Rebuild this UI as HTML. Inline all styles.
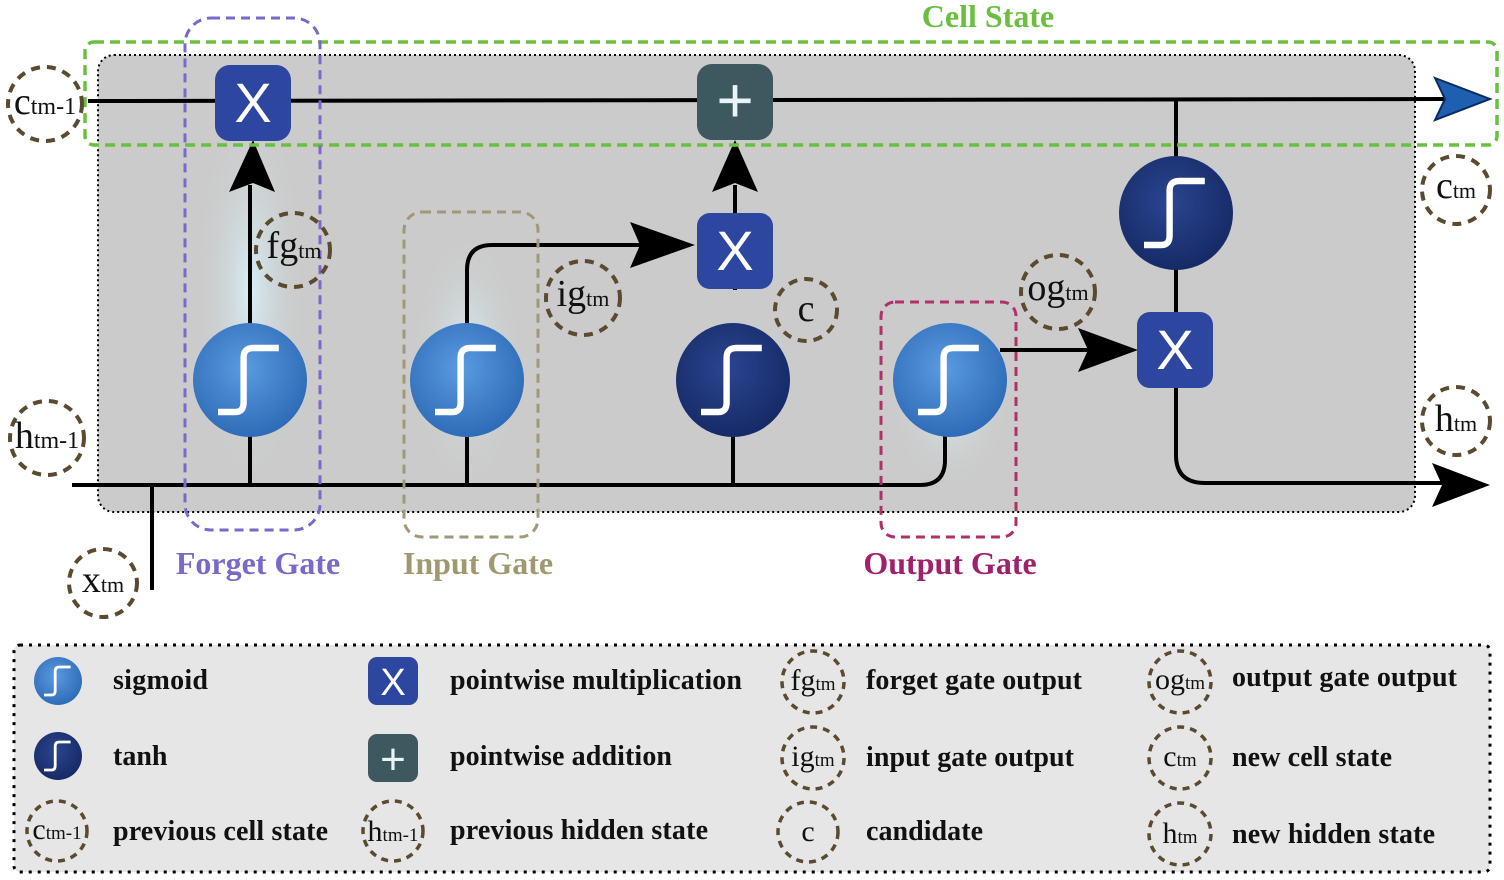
<!DOCTYPE html>
<html><head><meta charset="utf-8"><style>body{margin:0;background:#fff}svg{display:block}text{font-family:"Liberation Serif",serif}</style></head><body>
<svg width="1504" height="880" viewBox="0 0 1504 880" xmlns="http://www.w3.org/2000/svg">
<defs>
<radialGradient id="glow" cx="0.5" cy="0.5" r="0.5"><stop offset="0" stop-color="#d6eef5"/><stop offset="1" stop-color="#cbcbcb" stop-opacity="0"/></radialGradient>
<radialGradient id="sig" cx="0.45" cy="0.4" r="0.6"><stop offset="0" stop-color="#5a9be0"/><stop offset="1" stop-color="#2f6cb8"/></radialGradient>
<radialGradient id="tanh" cx="0.45" cy="0.4" r="0.6"><stop offset="0" stop-color="#2a4590"/><stop offset="1" stop-color="#162a66"/></radialGradient>
<g id="S"><path d="M-20,20 H-9 Q-4,20 -4,14 V-14 Q-4,-20 2,-20 H18" fill="none" stroke="#fff" stroke-width="4"/></g>
</defs>
<!-- main box -->
<rect x="98" y="55" width="1317" height="457" rx="16" fill="#cbcbcb" stroke="#000" stroke-width="2" stroke-dasharray="2 3"/>
<ellipse cx="250" cy="290" rx="55" ry="200" fill="url(#glow)"/>
<ellipse cx="467" cy="360" rx="55" ry="130" fill="url(#glow)"/>
<ellipse cx="950" cy="400" rx="60" ry="90" fill="url(#glow)"/>
<!-- lines -->
<g stroke="#000" stroke-width="4" fill="none">
<line x1="88" y1="101" x2="1445" y2="99"/>
<path d="M72,485 H920 Q945,485 945,460 V420"/>
<line x1="152" y1="485" x2="152" y2="590"/>
<line x1="250" y1="485" x2="250" y2="185"/>
<path d="M467,485 V270 Q467,245 492,245 H645"/>
<line x1="733" y1="485" x2="733" y2="325"/>
<line x1="735" y1="290" x2="735" y2="185"/>
<line x1="1000" y1="350" x2="1090" y2="350"/>
<line x1="1176" y1="100" x2="1176" y2="330"/>
<path d="M1176,380 V455 Q1176,483 1205,483 H1445"/>
</g>
<g fill="#000">
<polygon points="229,192 253,140 275,192 253,183"/>
<polygon points="712,192 735,140 758,192 735,183"/>
<polygon points="630,222 695,245 630,268 640,245"/>
<polygon points="1078,328 1138,350 1078,372 1088,350"/>
<polygon points="1432,463 1490,485 1432,507 1442,485"/>
</g>
<polygon points="1435,78 1490,99 1435,120 1445,99" fill="#1f5fb0" stroke="#0a2a60" stroke-width="2"/>
<!-- circles -->
<circle cx="250" cy="380" r="57" fill="url(#sig)"/><use href="#S" transform="translate(250 380) scale(1.6)"/>
<circle cx="467" cy="380" r="57" fill="url(#sig)"/><use href="#S" transform="translate(467 380) scale(1.6)"/>
<circle cx="733" cy="380" r="57" fill="url(#tanh)"/><use href="#S" transform="translate(733 380) scale(1.6)"/>
<circle cx="950" cy="380" r="57" fill="url(#sig)"/><use href="#S" transform="translate(950 380) scale(1.6)"/>
<circle cx="1176" cy="213" r="57" fill="url(#tanh)"/><use href="#S" transform="translate(1176 213) scale(1.6)"/>
<!-- boxes -->
<rect x="215" y="65" width="76" height="76" rx="15" fill="#2d46a0"/><text x="253" y="122" font-size="56" fill="#fff" text-anchor="middle" style="font-family:'Liberation Sans',sans-serif">X</text>
<rect x="697" y="64" width="76" height="76" rx="15" fill="#3d585e"/><text x="735" y="122" font-size="64" fill="#e8f4f8" text-anchor="middle" style="font-family:'Liberation Sans',sans-serif">+</text>
<rect x="697" y="213" width="76" height="76" rx="13" fill="#2d46a0"/><text x="735" y="270" font-size="56" fill="#fff" text-anchor="middle" style="font-family:'Liberation Sans',sans-serif">X</text>
<rect x="1137" y="312" width="76" height="76" rx="13" fill="#2d46a0"/><text x="1175" y="369" font-size="56" fill="#fff" text-anchor="middle" style="font-family:'Liberation Sans',sans-serif">X</text>
<!-- gate boxes -->
<rect x="85" y="42" width="1412" height="103" rx="9" fill="none" stroke="#6abf40" stroke-width="3.5" stroke-dasharray="10 6"/>
<rect x="185" y="18" width="135" height="512" rx="26" fill="none" stroke="#7b68c8" stroke-width="3" stroke-dasharray="9 6"/>
<rect x="404" y="212" width="134" height="325" rx="18" fill="none" stroke="#a09878" stroke-width="3" stroke-dasharray="9 6"/>
<rect x="881" y="302" width="135" height="235" rx="14" fill="none" stroke="#b0306a" stroke-width="3" stroke-dasharray="9 6"/>
<!-- dashed labels -->
<g fill="none" stroke="#5a4a30" stroke-width="4" stroke-dasharray="9 7">
<circle cx="45" cy="104" r="37"/><circle cx="293" cy="250" r="37"/><circle cx="583" cy="298" r="37"/><circle cx="806" cy="310" r="31"/><circle cx="1058" cy="292" r="37"/><circle cx="1456" cy="190" r="34"/><circle cx="47" cy="438" r="37"/><circle cx="1456" cy="421" r="34"/><circle cx="103" cy="583" r="34"/>
</g>
<g font-size="38" fill="#111" text-anchor="middle">
<text x="45" y="114">c<tspan font-size="24">tm-1</tspan></text>
<text x="294" y="258">fg<tspan font-size="22">tm</tspan></text>
<text x="583" y="306">ig<tspan font-size="22">tm</tspan></text>
<text x="806" y="321">c</text>
<text x="1058" y="300">og<tspan font-size="22">tm</tspan></text>
<text x="1456" y="198">c<tspan font-size="22">tm</tspan></text>
<text x="47" y="448">h<tspan font-size="24">tm-1</tspan></text>
<text x="1456" y="431">h<tspan font-size="22">tm</tspan></text>
<text x="103" y="592">x<tspan font-size="22">tm</tspan></text>
</g>
<g font-size="32" font-weight="bold" text-anchor="middle">
<text x="988" y="27" fill="#6abf40">Cell State</text>
<text x="258" y="574" fill="#7b68c8">Forget Gate</text>
<text x="478" y="574" fill="#a09870">Input Gate</text>
<text x="950" y="574" fill="#a0206a">Output Gate</text>
</g>
<!-- legend -->
<rect x="14" y="645" width="1476" height="227" rx="6" fill="#e6e6e6" stroke="#000" stroke-width="3" stroke-dasharray="3 6"/>
<circle cx="58" cy="681" r="24" fill="url(#sig)"/><use href="#S" transform="translate(58 681) scale(0.7)"/>
<circle cx="58" cy="756" r="24" fill="url(#tanh)"/><use href="#S" transform="translate(58 756) scale(0.7)"/>
<rect x="368" y="657" width="50" height="48" rx="9" fill="#2d46a0"/><text x="393" y="695" font-size="38" fill="#fff" text-anchor="middle" style="font-family:'Liberation Sans',sans-serif">X</text>
<rect x="368" y="734" width="50" height="48" rx="9" fill="#3d585e"/><text x="393" y="774" font-size="44" fill="#e8f4f8" text-anchor="middle" style="font-family:'Liberation Sans',sans-serif">+</text>
<g fill="none" stroke="#5a4a30" stroke-width="3.5" stroke-dasharray="7 6">
<circle cx="57" cy="831" r="30"/><circle cx="393" cy="831" r="30"/><circle cx="813" cy="682" r="31"/><circle cx="813" cy="758" r="31"/><circle cx="808" cy="832" r="30"/><circle cx="1180" cy="682" r="31"/><circle cx="1180" cy="758" r="31"/><circle cx="1180" cy="834" r="31"/>
</g>
<g font-size="30" fill="#111" text-anchor="middle">
<text x="57" y="839">c<tspan font-size="19">tm-1</tspan></text>
<text x="393" y="841">h<tspan font-size="19">tm-1</tspan></text>
<text x="813" y="690">fg<tspan font-size="19">tm</tspan></text>
<text x="813" y="766">ig<tspan font-size="19">tm</tspan></text>
<text x="808" y="841">c</text>
<text x="1180" y="689">og<tspan font-size="19">tm</tspan></text>
<text x="1180" y="766">c<tspan font-size="19">tm</tspan></text>
<text x="1180" y="843">h<tspan font-size="19">tm</tspan></text>
</g>
<g font-size="28" font-weight="bold" fill="#111">
<text x="113" y="689" textLength="95">sigmoid</text>
<text x="113" y="765">tanh</text>
<text x="113" y="840" textLength="215">previous cell state</text>
<text x="450" y="689" textLength="292">pointwise multiplication</text>
<text x="450" y="765" textLength="222">pointwise addition</text>
<text x="450" y="839" textLength="258">previous hidden state</text>
<text x="866" y="689" textLength="216">forget gate output</text>
<text x="866" y="766" textLength="208">input gate output</text>
<text x="866" y="840" textLength="117">candidate</text>
<text x="1232" y="686" textLength="225">output gate output</text>
<text x="1232" y="766" textLength="160">new cell state</text>
<text x="1232" y="843" textLength="203">new hidden state</text>
</g>
</svg>
</body></html>
